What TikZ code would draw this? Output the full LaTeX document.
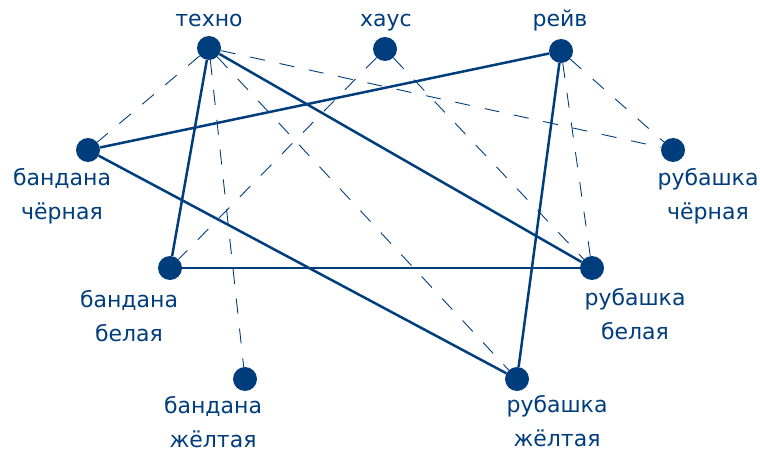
\documentclass[tikz,border=0pt]{standalone}
\usepackage{fontspec}
\setmainfont{DejaVu Sans}
\usepackage{xcolor}
\definecolor{navy}{RGB}{0,61,125}
\tikzset{>=latex}

\begin{document}
\begin{tikzpicture}[x=1pt, y=-1pt]
\tikzset{dot/.style={circle, fill=navy, draw=none, minimum size=24pt, inner sep=0pt},
         tag/.style={anchor=base, align=center, inner sep=0pt, text=navy, font=\fontsize{22}{34}\selectfont},
         link/.style={navy, line width=2.5pt},
         maybe/.style={navy, line width=0.9pt, dash pattern=on 15pt off 15pt}}
    \useasboundingbox (0,0) rectangle (760,454);

    % styles of music
    \node[dot] (Tech) at (209,48) {};
    \node[dot] (Haus) at (385,49) {};
    \node[dot] (Rave) at (561,51) {};

    % clothes
    \node[dot] (BandB) at (88,150) {};
    \node[dot] (ShirtB) at (673,150) {};
    \node[dot] (BandW) at (170,268) {};
    \node[dot] (ShirtW) at (592,268) {};
    \node[dot] (BandY) at (245,379) {};
    \node[dot] (ShirtY) at (517,379) {};

    % labels (base = last line)
    \node[tag] (TechL) at (209,27) {техно};
    \node[tag] (HausL) at (386,27) {хаус};
    \node[tag] (RaveL) at (560,27) {рейв};
    \node[tag] (BandBL) at (62,220) {бандана\\чёрная};
    \node[tag] (ShirtBL) at (708,220) {рубашка\\чёрная};
    \node[tag] (BandWL) at (129,341) {бандана\\белая};
    \node[tag] (ShirtWL) at (635,339) {рубашка\\белая};
    \node[tag] (BandYL) at (213,447) {бандана\\жёлтая};
    \node[tag] (ShirtYL) at (557,446) {рубашка\\жёлтая};
% % % % % % % % % % % % % % % % % % %
    \draw[link] (Tech) -- (BandW);
    \draw[link] (Tech) -- (ShirtW);
    \draw[link] (Rave) -- (BandB);
    \draw[link] (Rave) -- (ShirtY);
    \draw[link] (BandB) -- (ShirtY);
    \draw[link] (BandW) -- (ShirtW);

    \draw[maybe] (Tech) -- (BandB);
    \draw[maybe] (Tech) -- (ShirtB);
    \draw[maybe] (Tech) -- (BandY);
    \draw[maybe] (Tech) -- (ShirtY);
    \draw[maybe] (Haus) -- (BandW);
    \draw[maybe] (Haus) -- (ShirtW);
    \draw[maybe] (Rave) -- (ShirtB);
    \draw[maybe] (Rave) -- (ShirtW);
\end{tikzpicture}
\end{document}
